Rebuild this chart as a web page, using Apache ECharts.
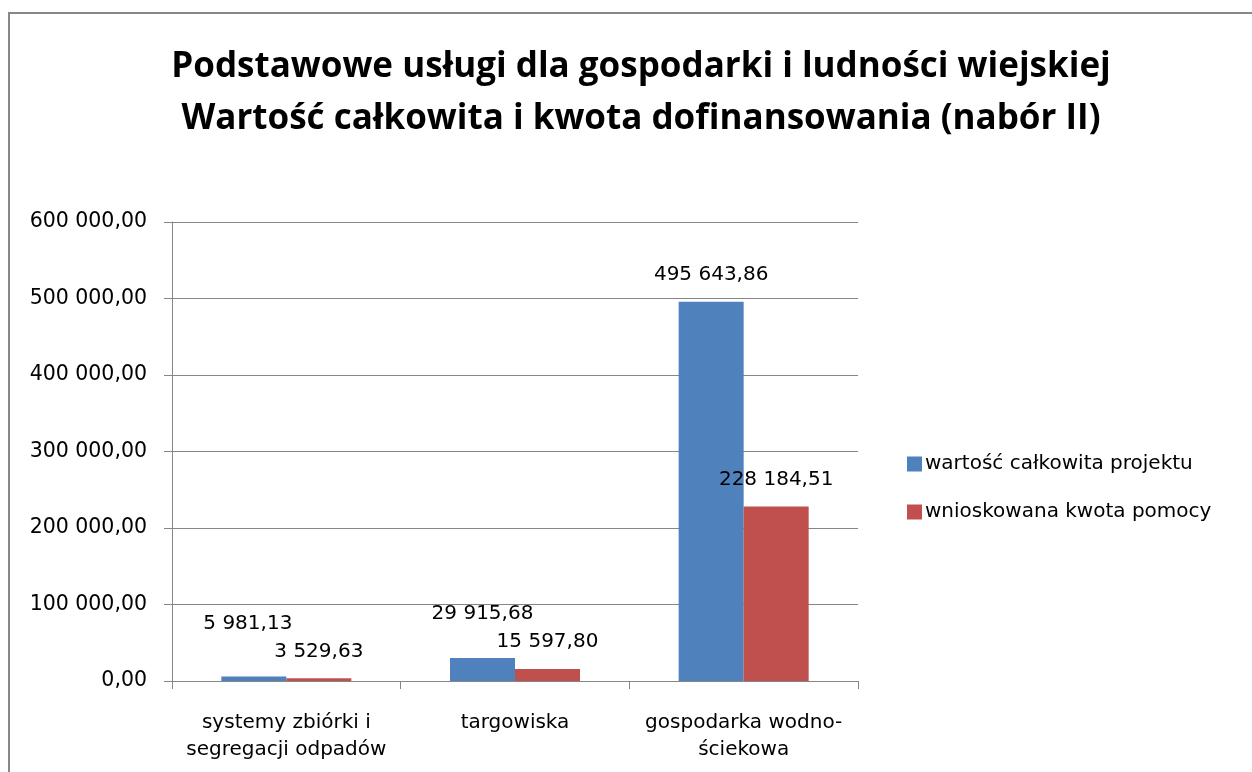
<!DOCTYPE html>
<html>
<head>
<meta charset="utf-8">
<script src="https://cdn.jsdelivr.net/npm/echarts@6/dist/echarts.min.js"></script>
<style>
  html, body { margin: 0; padding: 0; background: #fff; }
  #chart { width: 1252px; height: 772px; }
</style>
</head>
<body>
<div id="chart"></div>
<script>
const categories = [
  'systemy zbiórki i\nsegregacji odpadów',
  'targowiska',
  'gospodarka wodno-\nściekowa',
];
const totalValues = [5981.13, 29915.68, 495643.86];
const aidValues = [3529.63, 15597.8, 228184.51];
const seriesNames = ['wartość całkowita projektu', 'wnioskowana kwota pomocy'];

// labels that were dragged higher in the original
const totalLabelShift = [[-6, -26], [0, -17], [0, 0]];
const aidLabelShift = [[0, 0], [0, 0], [0, 0]];

const smallFont = 'DejaVu Sans';

// "495 643,86" style
const fmt = (v) => {
  const [int, dec] = v.toFixed(2).split('.');
  return int.replace(/\B(?=(\d{3})+(?!\d))/g, ' ') + ',' + dec;
};

const buildData = (values, shifts) =>
  values.map((v, i) => ({
    value: v,
    label: { offset: shifts[i] },
  }));

const chart = echarts.init(document.getElementById('chart'));

const barLabel = {
  show: true,
  position: 'top',
  distance: 17,
  fontFamily: smallFont,
  fontSize: 20,
  color: '#000',
  formatter: (p) => fmt(p.value),
};

chart.setOption({
  animation: false,
  title: {
    text: 'Podstawowe usługi dla gospodarki i ludności wiejskiej\nWartość całkowita i kwota dofinansowania (nabór II)',
    left: 636,
    top: 36,
    textAlign: 'center',
    textStyle: {
      fontFamily: 'Open Sans',
      fontWeight: 'bold',
      fontSize: 35,
      lineHeight: 52,
      color: '#000',
    },
  },
  graphic: [
    {
      type: 'rect',
      shape: { x: 9, y: 13, width: 1400, height: 900 },
      style: { fill: 'none', stroke: '#878787', lineWidth: 2 },
      silent: true,
    },
  ],
  legend: {
    orient: 'vertical',
    left: 902,
    top: 449,
    itemWidth: 15,
    itemHeight: 15,
    itemGap: 28,
    icon: 'rect',
    selectedMode: false,
    textStyle: { fontFamily: smallFont, fontSize: 20, color: '#000', padding: [0, 0, 0, -2] },
    data: seriesNames,
  },
  grid: {
    left: 172,
    right: 394,
    top: 222,
    bottom: 91,
    containLabel: false,
  },
  xAxis: {
    type: 'category',
    data: categories,
    axisLine: { lineStyle: { color: '#868686' } },
    axisTick: { show: true, length: 8, lineStyle: { color: '#868686' } },
    axisLabel: {
      margin: 28,
      fontFamily: smallFont,
      fontSize: 20,
      lineHeight: 27,
      color: '#000',
      interval: 0,
    },
  },
  yAxis: {
    type: 'value',
    min: 0,
    max: 600000,
    interval: 100000,
    axisLine: { show: true, lineStyle: { color: '#868686' } },
    axisTick: { show: true, length: 8, lineStyle: { color: '#868686' } },
    splitLine: { show: true, lineStyle: { color: '#868686' } },
    axisLabel: {
      margin: 25,
      fontFamily: smallFont,
      fontSize: 20.5,
      color: '#000',
      formatter: (v) => fmt(v),
    },
  },
  series: [
    {
      name: seriesNames[0],
      type: 'bar',
      barWidth: 65,
      barGap: '0%',
      itemStyle: { color: '#4F81BD' },
      label: barLabel,
      data: buildData(totalValues, totalLabelShift),
    },
    {
      name: seriesNames[1],
      type: 'bar',
      barWidth: 65,
      barGap: '0%',
      itemStyle: { color: '#C0504D' },
      label: barLabel,
      data: buildData(aidValues, aidLabelShift),
    },
  ],
});
</script>
</body>
</html>
